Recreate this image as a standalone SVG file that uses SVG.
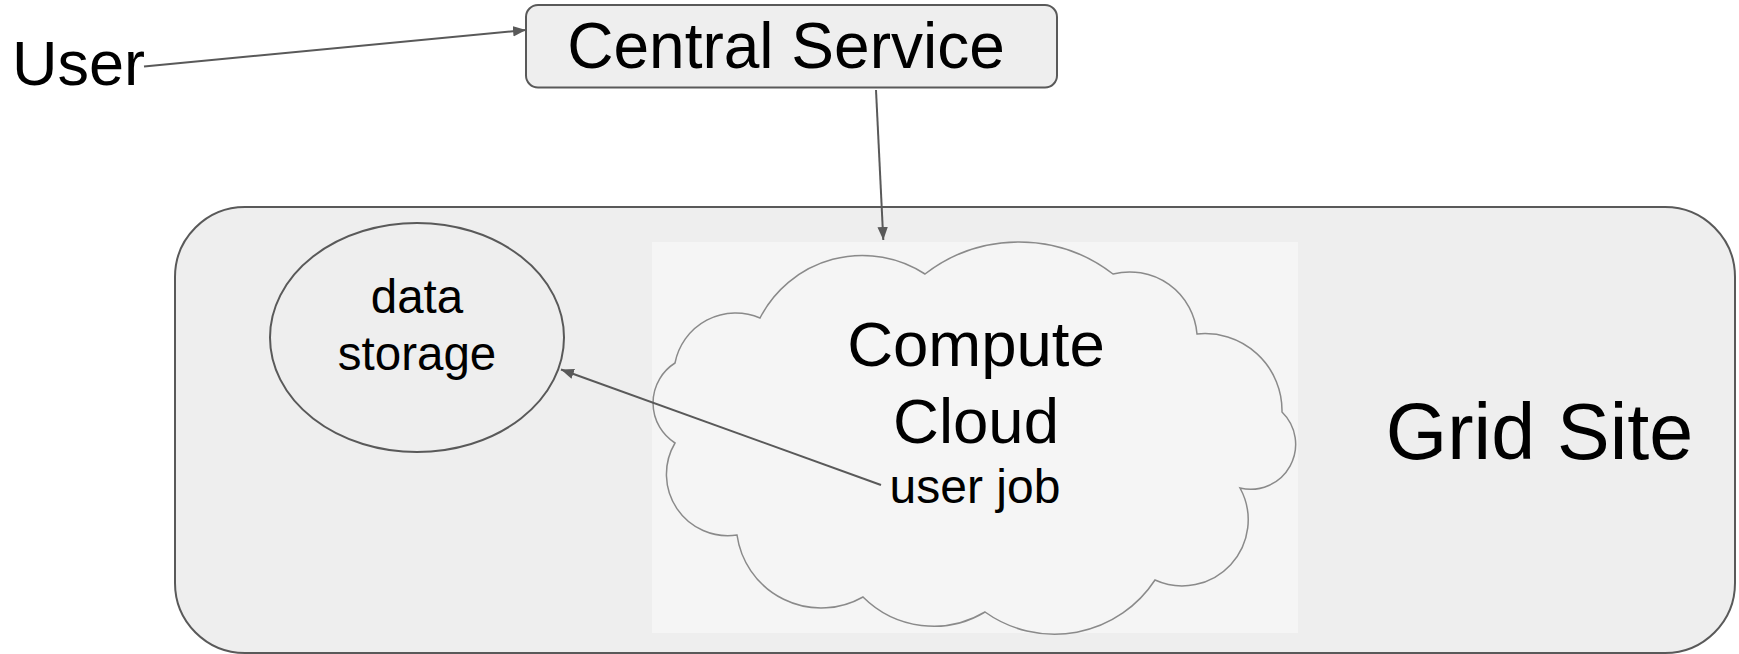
<svg xmlns="http://www.w3.org/2000/svg" width="1739" height="654" viewBox="0 0 1739 654">
  <style>
    .box { fill: #eeeeee; stroke: #595959; stroke-width: 2; }
    .lbl { font-family: "Liberation Sans", Arial, sans-serif; fill: #000000; }
    .mid { text-anchor: middle; }
    .edge { fill: none; stroke: #595959; stroke-width: 2; }
    .cloud { fill: #f5f5f5; stroke: #8a8a8a; stroke-width: 1.5; }
  </style>
  <defs>
    <marker id="arrow" markerUnits="userSpaceOnUse" markerWidth="14" markerHeight="12" refX="13" refY="6" orient="auto">
      <path d="M0,0.8 L13,6 L0,11.2 Z" fill="#595959"/>
    </marker>
  </defs>

  <rect width="1739" height="654" fill="#ffffff"/>

  <!-- Grid site container -->
  <g id="grid-site">
    <rect class="box" x="175" y="207" width="1560" height="446" rx="70" ry="70"/>
    <text class="lbl mid" x="1539.5" y="459" font-size="79">Grid Site</text>
  </g>

  <!-- Data storage -->
  <g id="data-storage">
    <ellipse class="box" cx="417" cy="337.5" rx="147" ry="114.5"/>
    <text class="lbl mid" x="417" y="313" font-size="47.5">data</text>
    <text class="lbl mid" x="417" y="370" font-size="47.5">storage</text>
  </g>

  <!-- Compute cloud -->
  <g id="compute-cloud">
    <rect x="652" y="242" width="646" height="391" fill="#f5f5f5"/>
    <path class="cloud" d="M760,318 A115,115 0 0 1 925,274 A154,154 0 0 1 1113,274 A67.5,67.5 0 0 1 1197,334 A77,77 0 0 1 1282,412 A45,45 0 0 1 1240,488 A66,66 0 0 1 1155,580 A120,120 0 0 1 985,612 A100,100 0 0 1 863,597 A85,85 0 0 1 737,535 A61.4,61.4 0 0 1 675,443 A47.4,47.4 0 0 1 675,363 A61.8,61.8 0 0 1 760,318 Z"/>
    <text class="lbl mid" x="976" y="366" font-size="63.5">Compute</text>
    <text class="lbl mid" x="976" y="443" font-size="63.5">Cloud</text>
    <text class="lbl mid" x="975" y="503" font-size="48">user job</text>
  </g>

  <!-- Central service -->
  <g id="central-service">
    <rect class="box" x="526" y="5" width="531" height="82.5" rx="12" ry="12"/>
    <text class="lbl mid" x="786" y="68" font-size="64">Central Service</text>
  </g>

  <!-- User -->
  <g id="user">
    <text class="lbl" x="12" y="85" font-size="63">User</text>
  </g>

  <!-- Connectors -->
  <g id="connectors">
    <line class="edge" x1="144" y1="66.6" x2="526" y2="30" marker-end="url(#arrow)"/>
    <line class="edge" x1="876" y1="90" x2="883.3" y2="240" marker-end="url(#arrow)"/>
    <line class="edge" x1="881" y1="485" x2="561" y2="369.5" marker-end="url(#arrow)"/>
  </g>
</svg>
